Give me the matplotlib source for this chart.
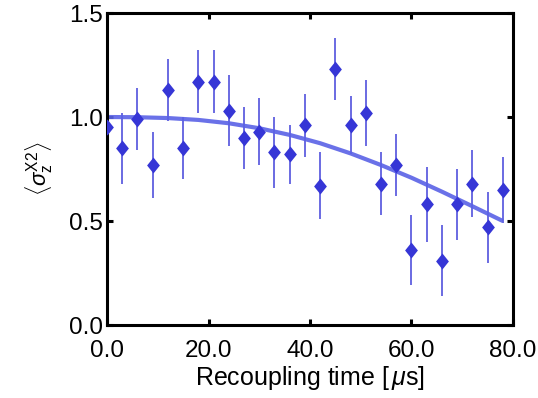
import numpy as np
import matplotlib.pyplot as plt

plt.rcParams["font.family"] = ["Liberation Sans", "DejaVu Sans"]
plt.rcParams["mathtext.fontset"] = "custom"
plt.rcParams["mathtext.rm"] = "Liberation Sans"
plt.rcParams["mathtext.it"] = "Liberation Sans:italic"

# measured points
time_us = [0, 3, 6, 9, 12, 15, 18, 21, 24, 27, 30, 33, 36, 39, 42, 45, 48,
           51, 54, 57, 60, 63, 66, 69, 72, 75, 78]
sigma_z = [0.95, 0.85, 0.99, 0.77, 1.13, 0.85, 1.17, 1.17, 1.03, 0.90, 0.93,
           0.83, 0.82, 0.96, 0.67, 1.23, 0.96, 1.02, 0.68, 0.77, 0.36, 0.58,
           0.31, 0.58, 0.68, 0.47, 0.65]
sigma_err = [0.14, 0.17, 0.15, 0.16, 0.15, 0.15, 0.15, 0.15, 0.17, 0.15,
             0.16, 0.17, 0.14, 0.15, 0.16, 0.15, 0.14, 0.16, 0.15, 0.15,
             0.17, 0.18, 0.17, 0.17, 0.16, 0.17, 0.16]

# fit curve
fit_t = [0, 6, 12, 18, 24, 30, 36, 42, 48, 54, 60, 66, 72, 78]
fit_y = [1.0, 0.999, 0.995, 0.986, 0.970, 0.946, 0.914, 0.874, 0.825,
         0.769, 0.708, 0.641, 0.571, 0.50]

MARKER_COLOR = "#3636d6"
ERR_COLOR = "#3a3ad8"
FIT_COLOR = "#5a62e6"

fig = plt.figure(figsize=(5.38, 3.98), dpi=100)
ax = fig.add_axes([0.1989, 0.1834, 0.7546, 0.7839])

ax.errorbar(time_us, sigma_z, yerr=sigma_err, fmt="none", ecolor=ERR_COLOR,
            elinewidth=1.4, alpha=0.75, zorder=1)
ax.plot(fit_t, fit_y, "-", color=FIT_COLOR, linewidth=3.0, alpha=0.9,
        solid_capstyle="butt", zorder=2)

diamond = [(0, 1), (0.8, 0), (0, -1), (-0.8, 0), (0, 1)]
ax.plot(time_us, sigma_z, linestyle="none", marker=diamond, markersize=11.5,
        color=MARKER_COLOR, markeredgewidth=0, zorder=3)

ax.set_xlim(0, 80)
ax.set_ylim(0, 1.5)
ax.set_xticks([0, 20, 40, 60, 80])
ax.set_xticklabels(["0.0", "20.0", "40.0", "60.0", "80.0"])
ax.set_yticks([0, 0.5, 1.0, 1.5])
ax.set_yticklabels(["0.0", "0.5", "1.0", "1.5"])

for spine in ax.spines.values():
    spine.set_linewidth(2.2)
ax.tick_params(axis="both", direction="in", length=4, width=2.2,
               top=True, right=True, labelsize=17.5)
ax.tick_params(axis="x", pad=11)
ax.tick_params(axis="y", pad=3)

ax.set_xlabel(r"Recoupling time [$\,\mu$s]", fontsize=18, labelpad=1)
ax.set_ylabel(r"$\langle\sigma_{\rm z}^{\rm X2}\rangle$", fontsize=16,
              labelpad=10)

fig.savefig("out.png", dpi=100)
